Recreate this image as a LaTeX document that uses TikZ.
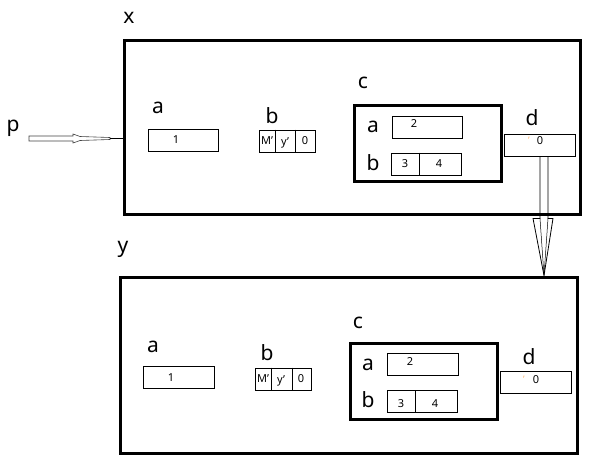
\documentclass[tikz,border=0pt]{standalone}
\usepackage{fontspec}
\setmainfont{Noto Sans}
\usetikzlibrary{calc}
\begin{document}
\begin{tikzpicture}[x=1pt,y=-1pt,
  outer/.style={draw,line width=3pt,inner sep=0pt},
  cell/.style={draw,line width=0.8pt,inner sep=0pt,minimum height=22pt},
  lbl/.style={font=\fontsize{21}{21}\selectfont,inner sep=0pt},
  num/.style={font=\fontsize{11}{11}\selectfont,inner sep=0pt},
  blk/.style={draw,line width=0.8pt},
  tick/.style={font=\fontsize{9}{9}\selectfont,inner sep=0pt,text=orange!60}]
\useasboundingbox (0,0) rectangle (600,469);

% ---------- top structure x ----------
\node[outer,minimum width=456pt,minimum height=174pt] (X) at (352,127) {};
\node[lbl] (xl) at (129,18) {x};

\node[lbl] (xal) at (158,108) {a};
\node[cell,minimum width=70pt] (xa) at (183,140) {};
\node[num] (xa1) at (176,140) {1};

\node[lbl] (xbl) at (272,116) {b};
\node[cell,minimum width=56pt] (xb) at (287,141) {};
\draw[line width=0.6pt] ([xshift=-12pt]xb.north) -- ([xshift=-12pt]xb.south);
\draw[line width=0.6pt] ([xshift=8pt]xb.north) -- ([xshift=8pt]xb.south);
\node[num] (xbm) at (267,141) {M'};
\node[num] (xby) at (285,143) {y'};
\node[num] (xb0) at (305,141) {0};

\node[lbl] (xcl) at (363,83) {c};
\node[outer,minimum width=147pt,minimum height=76pt] (xc) at (427.5,143) {};
\node[lbl] (xcal) at (373,127) {a};
\node[cell,minimum width=70pt] (xca) at (427,127) {};
\node[num] (xca2) at (414,124) {2};
\node[lbl] (xcbl) at (373,163) {b};
\node[cell,minimum width=70pt] (xcb) at (426,164) {};
\draw[line width=0.6pt] ([xshift=-7pt]xcb.north) -- ([xshift=-7pt]xcb.south);
\node[num] (xcb3) at (405,164) {3};
\node[num] (xcb4) at (439,164) {4};

\node[lbl] (xdl) at (532,118) {d};
\node[cell,minimum width=71pt] (xd) at (539.5,145) {};
\node[tick] (xdt) at (529,140) {'};
\node[num] (xd0) at (540,141) {0};

% ---------- p arrow ----------
\node[lbl] (pl) at (13,128) {p};
\coordinate (ps) at (29,138.5);
\draw[line width=0.6pt,black!75] (ps) ++(0,-2.5) -- ++(44,0) -- ++(0,-2) -- ++(7,2.5) -- ++(30,1) -- ++(0,2) -- ++(-30,1) -- ++(-7,2.5) -- ++(0,-2) -- ++(-44,0) -- cycle;
\draw[line width=0.8pt] ($(ps)+(81,0)$) -- (ps -| X.west);

% ---------- bottom structure y ----------
\node[outer,minimum width=457pt,minimum height=176pt] (Y) at (348.5,365) {};
\node[lbl] (yl) at (123,249) {y};

\node[lbl] (yal) at (153,347) {a};
\node[cell,minimum width=71pt] (ya) at (178.5,377.5) {};
\node[num] (ya1) at (171,378) {1};

\node[lbl] (ybl) at (267,353) {b};
\node[cell,minimum width=56pt] (yb) at (283,379) {};
\draw[line width=0.6pt] ([xshift=-12pt]yb.north) -- ([xshift=-12pt]yb.south);
\draw[line width=0.6pt] ([xshift=9pt]yb.north) -- ([xshift=9pt]yb.south);
\node[num] (ybm) at (263,379) {M'};
\node[num] (yby) at (281,381) {y'};
\node[num] (yb0) at (301,379) {0};

\node[lbl] (ycl) at (358,323) {c};
\node[outer,minimum width=147pt,minimum height=76pt] (yc) at (423.5,381) {};
\node[lbl] (ycal) at (368,365) {a};
\node[cell,minimum width=71pt] (yca) at (422.5,364.5) {};
\node[num] (yca2) at (410,362) {2};
\node[lbl] (ycbl) at (368,400) {b};
\node[cell,minimum width=70pt] (ycb) at (422,401.5) {};
\draw[line width=0.6pt] ([xshift=-7pt]ycb.north) -- ([xshift=-7pt]ycb.south);
\node[num] (ycb3) at (401,404) {3};
\node[num] (ycb4) at (435,404) {4};

\node[lbl] (ydl) at (529,357) {d};
\node[cell,minimum width=71pt] (yd) at (535.5,382.5) {};
\node[tick] (ydt) at (524,379) {'};
\node[num] (yd0) at (536,380) {0};

% ---------- block arrow from x.d down to y ----------
\coordinate (s) at ([xshift=4.5pt]xd.south);
\coordinate (tip) at (s |- Y.north);
\draw[blk] ($(s)+(-4,0)$) -- ($(s)+(-4,62)$) -- ($(s)+(-11,62)$) -- (tip)
  -- ($(s)+(9,62)$) -- ($(s)+(4,62)$) -- ($(s)+(4,0)$);
\draw[line width=0.5pt] ($(s)+(-4,62)$) -- (tip) -- ($(s)+(4,62)$);
\end{tikzpicture}
\end{document}
